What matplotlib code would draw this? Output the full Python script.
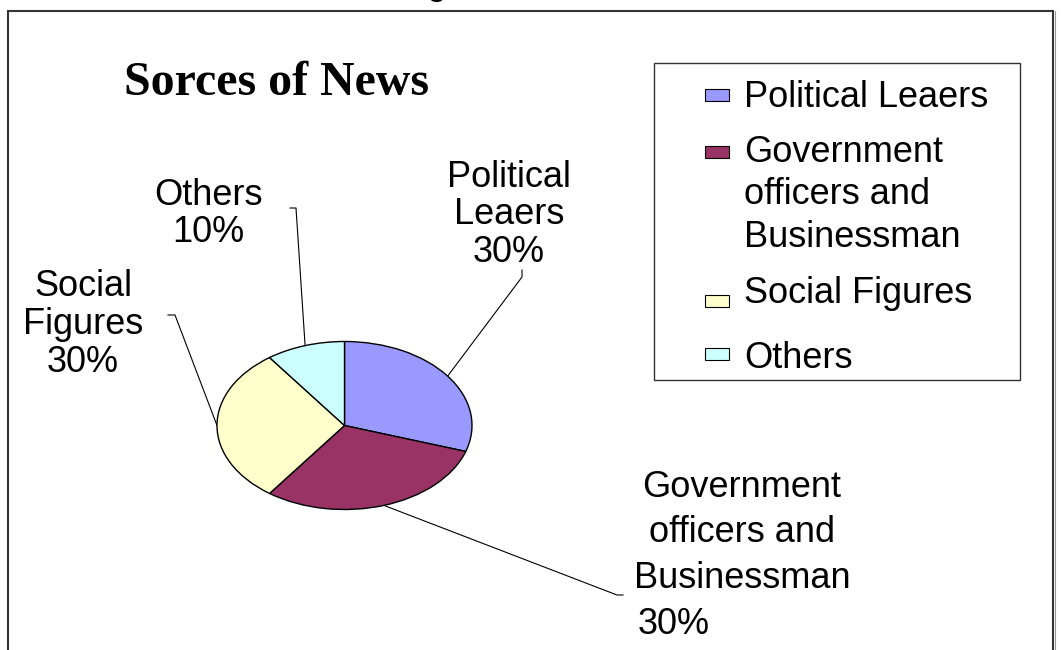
import textwrap
import numpy as np
import matplotlib
matplotlib.use("Agg")
import matplotlib.pyplot as plt
from matplotlib.patches import Rectangle

# news sources, share in percent
categories = ["Political Leaers", "Government officers and Businessman", "Social Figures", "Others"]
shares = [30, 30, 30, 10]
colors = ["#9999FF", "#993366", "#FFFFCC", "#CCFFFF"]
title = "Sorces of News"

W, H = 1063, 650
SANS = "Liberation Sans"
SERIF = "Liberation Serif"
FS = 26

fig = plt.figure(figsize=(W / 100, H / 100), dpi=100)

# pixel-space canvas for frame, title, labels and legend
bg = fig.add_axes([0, 0, 1, 1])
bg.set_xlim(0, W)
bg.set_ylim(H, 0)
bg.axis("off")

# chart frame (bottom edge runs off the page)
bg.plot([8, 8, 1053, 1053], [H, 11, 11, H], color="#333333", lw=1.5, solid_joinstyle="miter")
bg.plot([1055, 1055], [11, H], color="#999999", lw=0.8)
# tail of the page caption above the chart
bg.text(436, -6, "g", family=SANS, fontsize=FS, ha="center", va="baseline")

bg.text(276, 95, title, family=SERIF, fontweight="bold", fontsize=34.5, ha="center", va="baseline")

# flattened pie: centre and radii in pixels
cx, cy, rx, ry = 344.5, 425.5, 127.5, 84
pax = fig.add_axes([(cx - rx) / W, 1 - (cy + ry) / H, 2 * rx / W, 2 * ry / H])
wedges = pax.pie(shares, colors=colors, startangle=90, counterclock=False,
                 wedgeprops=dict(edgecolor="black", linewidth=1))[0]
pax.set_aspect("auto")
pax.set_xlim(-1, 1)
pax.set_ylim(-1, 1)
pax.axis("off")
for w in wedges:
    w.set_clip_on(False)

to_bg = lambda p: bg.transData.inverted().transform(pax.transData.transform(p))

total = sum(shares)
cum = np.cumsum([0] + shares[:-1])
mid = np.deg2rad(90 - 360 * (cum + np.array(shares) / 2) / total)

# label layout: centre x, first baseline, line gap, elbow, tail, x of the % line (None = centred)
layout = [
    (509, 187, 37.5, (522, 277), (522, 270), None),
    (742, 497, 45.5, (617, 595), (623, 595), 638),
    (83, 296, 38, (175, 315), (168, 315), None),
    (208, 205, 37, (296, 208), (290, 208), None),
]

for name, val, ang, (lx, ly, gap, elbow, tail, px) in zip(categories, shares, mid, layout):
    start = to_bg((np.cos(ang), np.sin(ang)))
    bg.plot([start[0], elbow[0], tail[0]], [start[1], elbow[1], tail[1]], color="black", lw=0.8)
    lines = textwrap.wrap(name, 12)
    for i, s in enumerate(lines):
        bg.text(lx, ly + i * gap, s, family=SANS, fontsize=FS, ha="center", va="baseline")
    yp = ly + len(lines) * gap
    if px is None:
        bg.text(lx, yp, f"{val}%", family=SANS, fontsize=FS, ha="center", va="baseline")
    else:
        bg.text(px, yp, f"{val}%", family=SANS, fontsize=FS, ha="left", va="baseline")

# legend box
bg.add_patch(Rectangle((654, 63), 366, 317, facecolor="white", edgecolor="#333333", lw=1))
legend_rows = [(95, 107), (152, 162), (301, 303), (354, 368)]
for name, col, (my, ty) in zip(categories, colors, legend_rows):
    bg.add_patch(Rectangle((705, my - 6), 24, 12, facecolor=col, edgecolor="black", lw=0.8))
    for i, s in enumerate(textwrap.wrap(name, 16)):
        bg.text(744, ty + i * 42.5, s, family=SANS, fontsize=FS, ha="left", va="baseline")

fig.savefig("out.png", dpi=100, facecolor="white")
